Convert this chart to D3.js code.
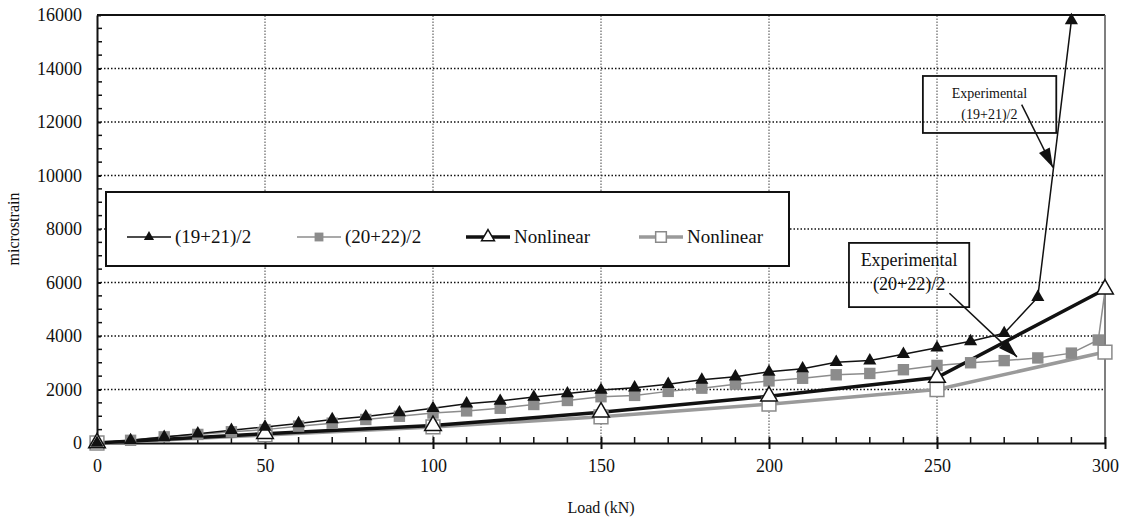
<!DOCTYPE html>
<html>
<head>
<meta charset="utf-8">
<script src="https://cdn.jsdelivr.net/npm/d3@7"></script>
<style>
  body { margin: 0; background: #fff; }
  svg { display: block; font-family: "Liberation Serif", "DejaVu Serif", serif; }
</style>
</head>
<body>
<div class="chart"></div>
<script>
const width = 1127;
const height = 520;

// load values (kN) and strains (microstrain)
const loadExp1 = [0,10,20,30,40,50,60,70,80,90,100,110,120,130,140,150,160,170,180,190,200,210,220,230,240,250,260,270,280,290];
const strainExp1 = [0,100,220,350,480,600,730,880,990,1140,1300,1470,1570,1720,1850,1980,2070,2200,2360,2480,2660,2780,3020,3080,3320,3560,3800,4100,5450,15800];

const loadExp2 = [0,10,20,30,40,50,60,70,80,90,100,110,120,130,140,150,160,170,180,190,200,210,220,230,240,250,260,270,280,290,298,300];
const strainExp2 = [0,100,230,320,420,500,630,740,880,1000,1120,1200,1300,1440,1590,1730,1780,1930,2050,2200,2320,2420,2550,2600,2740,2900,3000,3080,3180,3360,3850,5700];

const loadNl = [0,50,100,150,200,250,300];
const strainNl1 = [0,350,650,1150,1750,2450,5750];
const strainNl2 = [0,300,600,980,1450,2000,3400];

const legendLabels = ["(19+21)/2", "(20+22)/2", "Nonlinear", "Nonlinear"];
const xTicks = [0,50,100,150,200,250,300];
const yTicks = [0,2000,4000,6000,8000,10000,12000,14000,16000];

const svg = d3.select(".chart")
    .append("svg")
    .attr("width", width)
    .attr("height", height)
    .attr("viewBox", [0,0,width,height]);

const x = d3.scaleLinear().domain([0,300]).range([97,1105]);
const y = d3.scaleLinear().domain([0,16000]).range([443,15]);

// grid
svg.append("g")
    .selectAll("line")
    .data(yTicks.slice(1,-1))
    .join("line")
    .attr("x1", x(0)).attr("x2", x(300))
    .attr("y1", d => y(d)).attr("y2", d => y(d))
    .attr("stroke", "#111")
    .attr("stroke-width", 1.5)
    .attr("stroke-dasharray", "1.5,2");

svg.append("g")
    .selectAll("line")
    .data(xTicks.slice(1,-1))
    .join("line")
    .attr("x1", d => x(d)).attr("x2", d => x(d))
    .attr("y1", y(0)).attr("y2", y(16000))
    .attr("stroke", "#444")
    .attr("stroke-width", 1)
    .attr("stroke-dasharray", "1.5,1.5");

// frame top + right
svg.append("line")
    .attr("x1", x(0)).attr("x2", x(300)).attr("y1", y(16000)).attr("y2", y(16000))
    .attr("stroke", "#111").attr("stroke-width", 2);
svg.append("line")
    .attr("x1", x(300)).attr("x2", x(300)).attr("y1", y(16000)).attr("y2", y(0))
    .attr("stroke", "#555").attr("stroke-width", 1.5);

// axes
const xAxis = svg.append("g")
    .attr("transform", `translate(0,${y(0)})`)
    .call(d3.axisBottom(x).tickValues(xTicks).tickSize(6).tickSizeOuter(0).tickPadding(10));
xAxis.attr("font-family", null);
xAxis.select(".domain").attr("stroke", "#111").attr("stroke-width", 2);
xAxis.selectAll(".tick line").attr("stroke", "#111").attr("stroke-width", 2).attr("y1", -6);
xAxis.selectAll("text").attr("font-size", 18).attr("fill", "#111");

svg.append("g")
    .selectAll("line")
    .data(d3.range(10,300,10).filter(d => d % 50 !== 0))
    .join("line")
    .attr("x1", d => x(d)).attr("x2", d => x(d))
    .attr("y1", y(0)).attr("y2", y(0) - 6)
    .attr("stroke", "#111").attr("stroke-width", 1.5);

const yAxis = svg.append("g")
    .attr("transform", `translate(${x(0)},0)`)
    .call(d3.axisLeft(y).tickValues(yTicks).tickFormat(d3.format("d")).tickSize(7).tickSizeOuter(0).tickPadding(8));
yAxis.attr("font-family", null);
yAxis.select(".domain").attr("stroke", "#111").attr("stroke-width", 2);
yAxis.selectAll(".tick line").attr("stroke", "#111").attr("stroke-width", 2).attr("x2", 4);
yAxis.selectAll("text").attr("font-size", 18).attr("fill", "#111");

svg.append("g")
    .selectAll("line")
    .data(d3.range(500,16000,500).filter(d => d % 2000 !== 0))
    .join("line")
    .attr("x1", x(0)).attr("x2", x(0) + 5)
    .attr("y1", d => y(d)).attr("y2", d => y(d))
    .attr("stroke", "#111").attr("stroke-width", 1.5);

// axis titles
svg.append("text")
    .attr("x", (x(0) + x(300)) / 2).attr("y", 513)
    .attr("text-anchor", "middle")
    .attr("font-size", 16).attr("fill", "#111")
    .text("Load (kN)");
svg.append("text")
    .attr("transform", `translate(19,${y(8000)}) rotate(-90)`)
    .attr("text-anchor", "middle")
    .attr("font-size", 16).attr("fill", "#111")
    .text("microstrain");

// series
const series = [
  {load: loadExp2, strain: strainExp2, color: "#8c8c8c", lw: 1.5, symbol: d3.symbolSquare, size: 130, fill: "#8c8c8c", stroke: "none", skipLast: true},
  {load: loadNl, strain: strainNl2, color: "#9a9a9a", lw: 3.5, symbol: d3.symbolSquare, size: 190, fill: "#fff", stroke: "#8a8a8a"},
  {load: loadNl, strain: strainNl1, color: "#111", lw: 3.5, symbol: d3.symbolTriangle, size: 120, fill: "#fff", stroke: "#111"},
  {load: loadExp1, strain: strainExp1, color: "#111", lw: 1.5, symbol: d3.symbolTriangle, size: 75, fill: "#111", stroke: "none"}
];

const line = d3.line().x(d => x(d[0])).y(d => y(d[1]));

series.forEach(s => {
  const pts = s.load.map((l, i) => [l, s.strain[i]]);
  svg.append("path")
      .datum(pts)
      .attr("fill", "none")
      .attr("stroke", s.color)
      .attr("stroke-width", s.lw)
      .attr("d", line);
});
series.forEach(s => {
  let pts = s.load.map((l, i) => [l, s.strain[i]]);
  if (s.skipLast) pts = pts.slice(0, -1);
  svg.append("g")
      .selectAll("path")
      .data(pts)
      .join("path")
      .attr("transform", d => `translate(${x(d[0])},${y(d[1])})`)
      .attr("d", d3.symbol(s.symbol, s.size))
      .attr("fill", s.fill)
      .attr("stroke", s.stroke)
      .attr("stroke-width", 1.5);
});

// legend
const legend = svg.append("g");
legend.append("rect")
    .attr("x", 106).attr("y", 192).attr("width", 683).attr("height", 74)
    .attr("fill", "#fff").attr("stroke", "#111").attr("stroke-width", 2);
const legendX = [127, 297, 466, 639];
const legendOrder = [3, 0, 2, 1];
legendLabels.forEach((lab, i) => {
  const s = series[legendOrder[i]];
  const g = legend.append("g").attr("transform", `translate(${legendX[i]},237)`);
  g.append("line").attr("x1", 0).attr("x2", 44)
      .attr("stroke", s.color).attr("stroke-width", s.lw);
  g.append("path")
      .attr("transform", "translate(22,0)")
      .attr("d", d3.symbol(s.symbol, s.size * 0.6))
      .attr("fill", s.fill).attr("stroke", s.stroke).attr("stroke-width", 1.5);
  g.append("text")
      .attr("x", 48).attr("y", 6)
      .attr("font-size", 19).attr("fill", "#111")
      .text(lab);
});

// annotations
const defs = svg.append("defs");
defs.append("marker")
    .attr("id", "arrow")
    .attr("markerUnits", "userSpaceOnUse")
    .attr("viewBox", "0 0 16 10")
    .attr("refX", 16).attr("refY", 5)
    .attr("markerWidth", 20).attr("markerHeight", 12)
    .attr("orient", "auto")
    .append("path")
    .attr("d", "M0,0L16,5L0,10Z")
    .attr("fill", "#111");

svg.append("rect")
    .attr("x", x(245.8)).attr("y", y(13720))
    .attr("width", x(285.5) - x(245.8)).attr("height", y(11590) - y(13720))
    .attr("fill", "none").attr("stroke", "#111").attr("stroke-width", 1.8);
svg.append("text").attr("x", x(265.6)).attr("y", 98)
    .attr("text-anchor", "middle").attr("font-size", 14).attr("fill", "#111").text("Experimental");
svg.append("text").attr("x", x(265.6)).attr("y", 119)
    .attr("text-anchor", "middle").attr("font-size", 14).attr("fill", "#111").text("(19+21)/2");
svg.append("line")
    .attr("x1", x(275.2)).attr("y1", y(12650))
    .attr("x2", x(284.5)).attr("y2", y(10300))
    .attr("stroke", "#111").attr("stroke-width", 1.5)
    .attr("marker-end", "url(#arrow)");

svg.append("rect")
    .attr("x", x(223.8)).attr("y", y(7480))
    .attr("width", x(259.6) - x(223.8)).attr("height", y(5080) - y(7480))
    .attr("fill", "none").attr("stroke", "#111").attr("stroke-width", 1.8);
svg.append("text").attr("x", x(241.7)).attr("y", 266)
    .attr("text-anchor", "middle").attr("font-size", 18).attr("fill", "#111").text("Experimental");
svg.append("text").attr("x", x(241.7)).attr("y", 290)
    .attr("text-anchor", "middle").attr("font-size", 18).attr("fill", "#111").text("(20+22)/2");
svg.append("line")
    .attr("x1", x(253.7)).attr("y1", y(5600))
    .attr("x2", x(273.8)).attr("y2", y(3220))
    .attr("stroke", "#111").attr("stroke-width", 1.5)
    .attr("marker-end", "url(#arrow)");
</script>
</body>
</html>
